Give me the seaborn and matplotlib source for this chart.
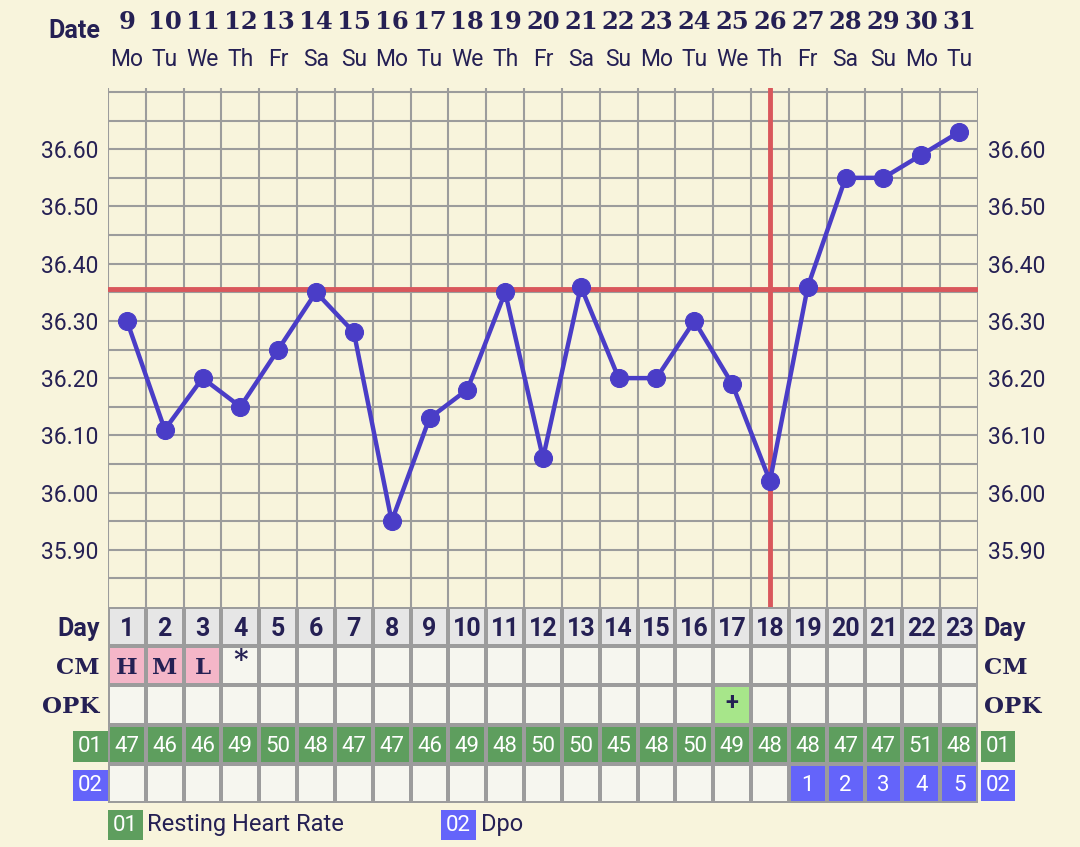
import matplotlib
matplotlib.use("Agg")
import matplotlib.pyplot as plt
from matplotlib.colors import ListedColormap
from matplotlib import font_manager
import numpy as np
import pandas as pd
import seaborn as sns

# chart data
dates = [9, 10, 11, 12, 13, 14, 15, 16, 17, 18, 19, 20, 21, 22, 23, 24, 25, 26, 27, 28, 29, 30, 31]
weekdays = ['Mo', 'Tu', 'We', 'Th', 'Fr', 'Sa', 'Su', 'Mo', 'Tu', 'We', 'Th', 'Fr',
            'Sa', 'Su', 'Mo', 'Tu', 'We', 'Th', 'Fr', 'Sa', 'Su', 'Mo', 'Tu']
cycle_days = list(range(1, 24))
temps = [36.30, 36.11, 36.20, 36.15, 36.25, 36.35, 36.28, 35.95, 36.13, 36.18, 36.35, 36.06,
         36.36, 36.20, 36.20, 36.30, 36.19, 36.02, 36.36, 36.55, 36.55, 36.59, 36.63]
coverline = 36.355
ovulation_day = 18
cm_marks = ['H', 'M', 'L', '*'] + [''] * 19
opk_marks = [''] * 16 + ['+'] + [''] * 6
heart_rate = [47, 46, 46, 49, 50, 48, 47, 47, 46, 49, 48, 50, 50, 45, 48, 50, 49, 48, 48, 47, 47, 51, 48]
dpo = [''] * 18 + ['1', '2', '3', '4', '5']
ytick_vals = [35.90, 36.00, 36.10, 36.20, 36.30, 36.40, 36.50, 36.60]

BG = '#f8f4dc'
GRID = '#9c9c9c'
INK = '#252054'
LINE = '#4a3dc7'
RED = '#d9575c'
GREEN = '#5e9e5e'
BLUE = '#6464fa'

sns.set_theme(style='white')
names = {f.name for f in font_manager.fontManager.ttflist}
SANS = 'Roboto' if 'Roboto' in names else 'DejaVu Sans'
SERIF = 'DejaVu Serif'
plt.rcParams['font.family'] = [SANS, 'DejaVu Sans']

W, H = 1080, 847
fig = plt.figure(figsize=(W / 100, H / 100), dpi=100, facecolor=BG)

def frac(x0, y0, x1, y1):
    return [x0 / W, 1 - y1 / H, (x1 - x0) / W, (y1 - y0) / H]

# ---- temperature chart ----
ax = fig.add_axes(frac(108, 88, 978, 607))
ax.set_facecolor(BG)
ax.set_xlim(0.5, 23.5)
ax.set_ylim(35.80, 36.707)
for v in np.arange(0.5, 24, 1):
    ax.axvline(v, color=GRID, lw=1.5, zorder=1)
for h in np.arange(35.85, 36.71, 0.05):
    ax.axhline(h, color=GRID, lw=1.5, zorder=1)
ax.axhline(coverline, color=RED, lw=3.5, zorder=2)
ax.axvline(ovulation_day, color=RED, lw=3.5, zorder=2)

df = pd.DataFrame({'day': cycle_days, 'temp': temps})
sns.lineplot(data=df, x='day', y='temp', ax=ax, color=LINE, lw=3.2, marker='o',
             markersize=13, markeredgecolor=LINE, zorder=3)

ax.set_xticks([])
ax.set_yticks(ytick_vals)
ax.set_yticklabels([f'{t:.2f}' for t in ytick_vals], fontsize=16.5, color=INK)
ax.tick_params(axis='y', length=0, pad=7, labelright=True, labelleft=True)
ax.set_xlabel('')
ax.set_ylabel('')
for s in ax.spines.values():
    s.set_visible(False)

# date header
tr = ax.get_xaxis_transform()
for d, dt, wd in zip(cycle_days, dates, weekdays):
    ax.text(d, 1.127, str(dt), transform=tr, ha='center', va='center', fontsize=17.5,
            fontweight='heavy', family=SERIF, color=INK)
    ax.text(d, 1.054, wd, transform=tr, ha='center', va='center', fontsize=16.5, color=INK)
ax.text(-0.4, 1.11, 'Date', transform=tr, ha='center', va='center', fontsize=18,
        fontweight='bold', color=INK)

# ---- table ----
tab = fig.add_axes(frac(108, 607, 978, 803))
row_codes = np.array([
    [1] * 23,
    [2 if m in ('H', 'M', 'L') else 0 for m in cm_marks],
    [3 if m else 0 for m in opk_marks],
    [4] * 23,
    [5 if m else 0 for m in dpo],
])
cmap = ListedColormap(['#f6f6ef', '#e6e6e6', '#f4b6c8', '#a7e68a', GREEN, BLUE])
sns.heatmap(row_codes, ax=tab, cmap=cmap, vmin=-0.5, vmax=5.5, cbar=False,
            linewidths=1.5, linecolor=GRID, xticklabels=False, yticklabels=False)

for i in range(23):
    x = i + 0.5
    tab.text(x, 0.55, str(cycle_days[i]), ha='center', va='center', fontsize=18,
             fontweight='bold', color=INK)
    if cm_marks[i] == '*':
        tab.text(x, 1.4, '*', ha='center', va='center', fontsize=20, fontweight='bold',
                 family=SERIF, color=INK)
    elif cm_marks[i]:
        tab.text(x, 1.55, cm_marks[i], ha='center', va='center', fontsize=16.5,
                 fontweight='bold', family=SERIF, color=INK)
    if opk_marks[i]:
        tab.text(x, 2.45, opk_marks[i], ha='center', va='center', fontsize=17,
                 fontweight='bold', color=INK)
    tab.text(x, 3.55, str(heart_rate[i]), ha='center', va='center', fontsize=16, color='white')
    if dpo[i]:
        tab.text(x, 4.55, dpo[i], ha='center', va='center', fontsize=16, color='white')

# row labels on both sides
for y, lab, fam in [(0.55, 'Day', SANS), (1.55, 'CM', SERIF), (2.55, 'OPK', SERIF)]:
    fs = 18 if fam == SANS else 16.5
    tab.text(-0.22, y, lab, ha='right', va='center', fontsize=fs,
             fontweight='bold', family=fam, color=INK)
    tab.text(23.15, y, lab, ha='left', va='center', fontsize=fs,
             fontweight='bold', family=fam, color=INK)

box = dict(boxstyle='square,pad=0.22', lw=0)
for y, code, col in [(3.55, '01', GREEN), (4.55, '02', BLUE)]:
    tab.text(-0.14, y, code, ha='right', va='center', fontsize=16, color='white',
             bbox={**box, 'fc': col})
    tab.text(23.2, y, code, ha='left', va='center', fontsize=16, color='white',
             bbox={**box, 'fc': col})

# legend
fig.text(113 / W, 1 - 825 / H, '01', ha='left', va='center', fontsize=16, color='white',
         bbox={**box, 'fc': GREEN})
fig.text(147 / W, 1 - 824 / H, 'Resting Heart Rate', ha='left', va='center', fontsize=17, color=INK)
fig.text(446 / W, 1 - 825 / H, '02', ha='left', va='center', fontsize=16, color='white',
         bbox={**box, 'fc': BLUE})
fig.text(481 / W, 1 - 824 / H, 'Dpo', ha='left', va='center', fontsize=17, color=INK)

fig.savefig('out.png', dpi=100, facecolor=BG)
